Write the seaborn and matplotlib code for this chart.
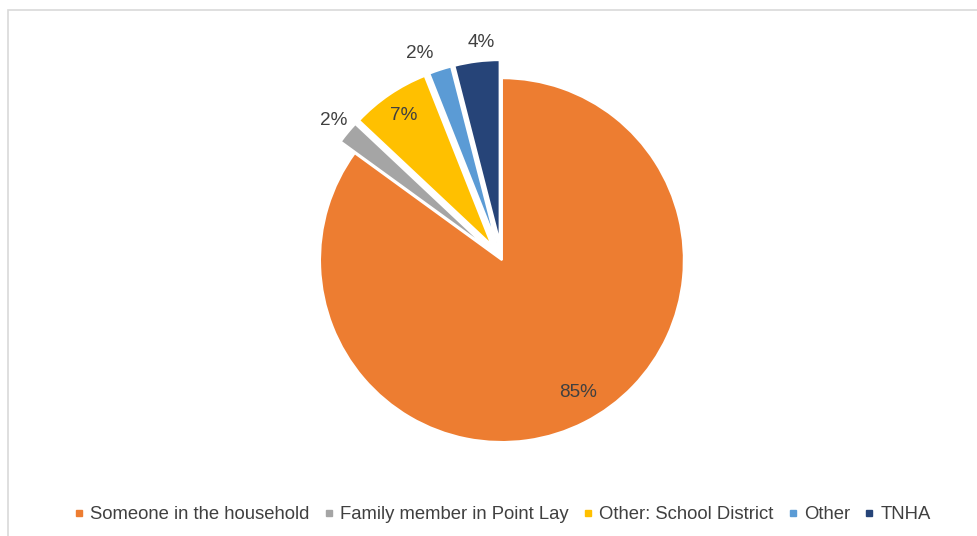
import matplotlib.pyplot as plt
import seaborn as sns
from matplotlib.lines import Line2D
from matplotlib.patches import Rectangle
import numpy as np

categories = ['Someone in the household', 'Family member in Point Lay',
              'Other: School District', 'Other', 'TNHA']
shares = [85, 2, 7, 2, 4]
pct_labels = ['85%', '2%', '7%', '2%', '4%']
colors = ['#ED7D31', '#A5A5A5', '#FFC000', '#5B9BD5', '#264478']

sns.set_style('white')
plt.rcParams['font.family'] = ['Liberation Sans', 'DejaVu Sans']
text_color = '#404040'

fig = plt.figure(figsize=(9.77, 5.36), dpi=100)
# chart area border (light gray, left + top visible)
fig.add_artist(Rectangle((8 / 977, -0.05), 1.1, 1 - 10 / 536 + 0.05,
                         transform=fig.transFigure, fill=False,
                         edgecolor='#D9D9D9', linewidth=1.2))

ax = fig.add_axes([0.2716, 0.0735, 0.4843, 0.8825])
explode = [0, 0.1, 0.1, 0.1, 0.1]
wedges, _ = ax.pie(shares, colors=colors, startangle=90, counterclock=False,
                   explode=explode,
                   wedgeprops=dict(edgecolor='white', linewidth=1.5))
ax.set_xlim(-1.3, 1.3)
ax.set_ylim(-1.3, 1.3)
ax.set_aspect('equal')

# label distance from each wedge's own apex (fraction of radius),
# plus a small angular nudge (degrees) like Excel's best fit
label_r = [0.84, 1.1, 0.86, 1.12, 1.1]
label_nudge = [3, 0, 0, 4, -2]
for w, lab, r, nd in zip(wedges, pct_labels, label_r, label_nudge):
    mid = np.deg2rad((w.theta1 + w.theta2) / 2 + nd)
    cx, cy = w.center
    ax.text(cx + r * np.cos(mid), cy + r * np.sin(mid), lab,
            ha='center', va='center', fontsize=13.7, color=text_color)

handles = [Line2D([0], [0], marker='s', linestyle='none', markersize=5,
                  markerfacecolor=c, markeredgecolor=c) for c in colors]
fig.legend(handles, categories, loc='center', bbox_to_anchor=(0.514, 0.04),
           ncol=5, frameon=False, fontsize=13.3, handlelength=0.6,
           handletextpad=0.3, columnspacing=0.75, labelcolor=text_color)

fig.savefig('out.png', dpi=100)
